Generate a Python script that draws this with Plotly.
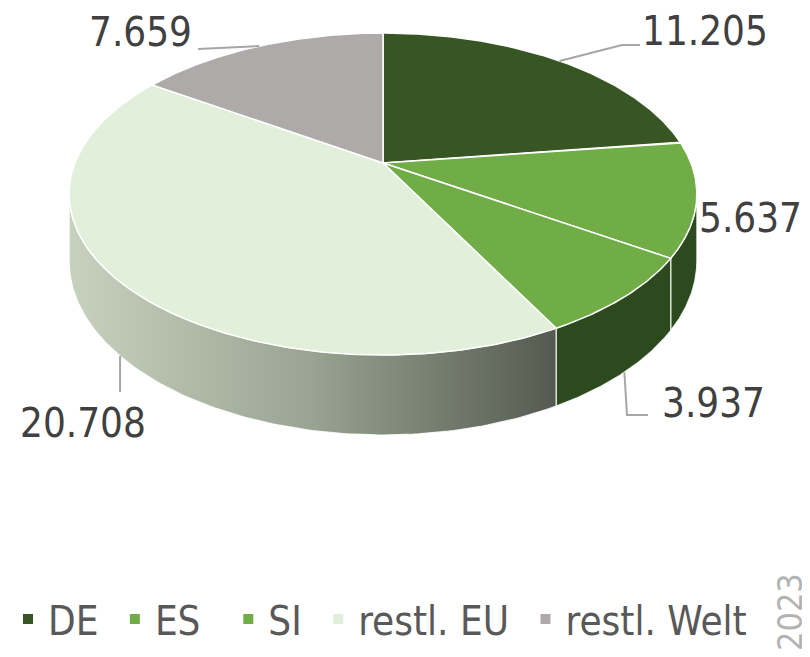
import numpy as np
import plotly.graph_objects as go

# ---------------- data ----------------
categories = ["DE", "ES", "SI", "restl. EU", "restl. Welt"]
values = [11.205, 5.637, 3.937, 20.708, 7.659]
value_labels = ["11.205", "5.637", "3.937", "20.708", "7.659"]
year_label = "2023"

# ---------------- styles ----------------
top_colors = ["#375623", "#70AD47", "#70AD47", "#E2EFDA", "#AEAAAA"]
side_colors = ["#2A451B", "#2C4A1E", "#2C4A1E", None, "#8E8A8A"]
eu_side_gradient = [[0, "#C6D1BE"], [0.5, "#98A391"], [1, "#555A50"]]
FONT = "DejaVu Sans Condensed, Roboto, sans-serif"
# trailing spacing to mimic the reference legend spacing
legend_pad = ["\u00a0", "\u00a0\u00a0", "\u00a0", "\u00a0", ""]

# the page body adds an 8px offset; the figure is shrunk by that amount so the
# page does not overflow, and the coordinate frame is shifted to compensate
OFF = 8
W, H = 810 - OFF, 657 - OFF

# 3D pie geometry (pixel-like coordinate system)
CX, CY = 383, 163          # apex of the pie
RX, RY = 308, 155          # radii of the disc
K = 0.1926                 # perspective factor
DEPTH = 64.6               # disc thickness


def proj(t, depth=0.0):
    u, v = np.sin(t), np.cos(t)
    d = 1 + K * v
    return CX + RX * u / d, CY - RY * v / d + depth * DEPTH / d


total = sum(values)
bounds = np.concatenate([[0], np.cumsum(values) / total * 2 * np.pi])
t_right = np.arccos(-K)
t_left = 2 * np.pi - t_right

fig = go.Figure()

# ---- sides (front rim) ----
for i, cat in enumerate(categories):
    a0, a1 = max(bounds[i], t_right), min(bounds[i + 1], t_left)
    if a1 <= a0:
        continue
    ts = np.linspace(a0, a1, 120)
    xt, yt = proj(ts, 0)
    xb, yb = proj(ts[::-1], 1)
    xs = np.concatenate([xt, xb, xt[:1]])
    ys = np.concatenate([yt, yb, yt[:1]])
    kw = {}
    if side_colors[i] is None:
        kw["fillgradient"] = dict(type="horizontal", colorscale=eu_side_gradient)
    else:
        kw["fillcolor"] = side_colors[i]
    fig.add_trace(go.Scatter(x=xs, y=ys, mode="lines", fill="toself",
                             line=dict(color="rgba(255,255,255,0.85)", width=1.2),
                             showlegend=False, hoverinfo="skip", **kw))

# ---- top faces ----
for i, cat in enumerate(categories):
    ts = np.linspace(bounds[i], bounds[i + 1], 150)
    xa, ya = proj(ts, 0)
    xs = np.concatenate([[CX], xa, [CX]])
    ys = np.concatenate([[CY], ya, [CY]])
    fig.add_trace(go.Scatter(x=xs, y=ys, mode="lines", fill="toself",
                             fillcolor=top_colors[i],
                             line=dict(color="white", width=1.5),
                             showlegend=False, name=cat,
                             hovertemplate=f"{cat}: {value_labels[i]}<extra></extra>"))

# ---- leader lines and labels ----
label_pos = [(705, 31), (750, 218), (713, 403), (83, 423), (140, 32)]
leader = [
    (0, [(622, 45), (640, 45)]),
    None,
    (1, [(627, 415), (648, 415)]),
    (1, [("ax", 392)]),
    (0, [(198, 49)]),
]
for i, cat in enumerate(categories):
    mid = (bounds[i] + bounds[i + 1]) / 2
    if leader[i] is not None:
        depth, pts = leader[i]
        ax, ay = proj(mid, depth)
        lx, ly = [ax], [ay]
        for px, py in pts:
            lx.append(ax if px == "ax" else px)
            ly.append(py)
        fig.add_trace(go.Scatter(x=lx, y=ly, mode="lines",
                                 line=dict(color="#A6A6A6", width=2),
                                 showlegend=False, hoverinfo="skip"))
    fig.add_annotation(x=label_pos[i][0], y=label_pos[i][1], text=value_labels[i],
                       showarrow=False, font=dict(family=FONT, size=40, color="#404040"),
                       xanchor="center", yanchor="middle")

# ---- legend entries ----
for i, cat in enumerate(categories):
    fig.add_trace(go.Scatter(x=[None], y=[None], mode="markers", name=cat + legend_pad[i],
                             marker=dict(symbol="square", size=10, color=top_colors[i]),
                             showlegend=True))

fig.add_annotation(x=790, y=612, text=year_label, textangle=-90, showarrow=False,
                   font=dict(family=FONT, size=34, color="#B3B3B3"),
                   xanchor="center", yanchor="middle")

fig.update_layout(
    width=W, height=H,
    margin=dict(l=0, r=0, t=0, b=0, autoexpand=False),
    paper_bgcolor="white", plot_bgcolor="white",
    xaxis=dict(range=[OFF, OFF + W], visible=False, fixedrange=True),
    yaxis=dict(range=[OFF + H, OFF], visible=False, fixedrange=True),
    legend=dict(orientation="h", xref="container", yref="container",
                x=-0.0156, y=0.0586, xanchor="left", yanchor="middle",
                font=dict(family=FONT, size=40, color="#595959"),
                bgcolor="rgba(0,0,0,0)", itemsizing="trace"),
    showlegend=True,
)

fig.write_html("out.html")
